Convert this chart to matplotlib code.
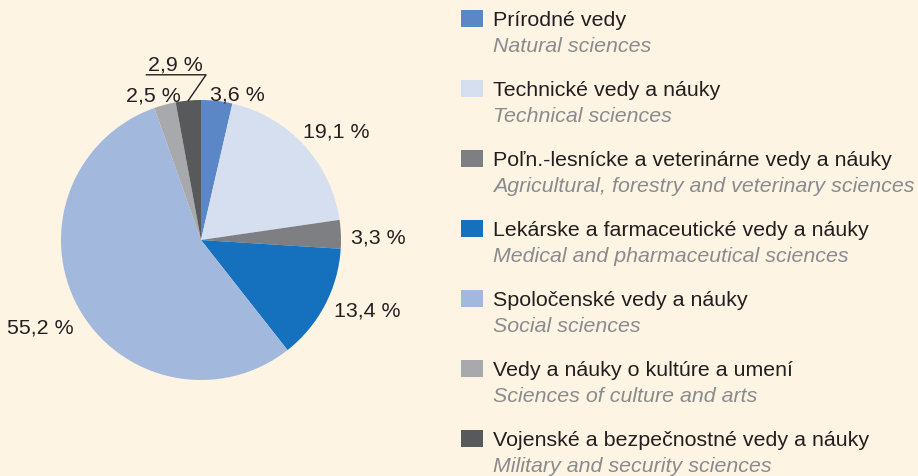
import numpy as np
import matplotlib
matplotlib.use("Agg")
import matplotlib.pyplot as plt
from matplotlib.patches import Rectangle

# data
labels_sk = ["Prírodné vedy", "Technické vedy a náuky",
             "Poľn.-lesnícke a veterinárne vedy a náuky",
             "Lekárske a farmaceutické vedy a náuky",
             "Spoločenské vedy a náuky", "Vedy a náuky o kultúre a umení",
             "Vojenské a bezpečnostné vedy a náuky"]
labels_en = ["Natural sciences", "Technical sciences",
             "Agricultural, forestry and veterinary sciences",
             "Medical and pharmaceutical sciences", "Social sciences",
             "Sciences of culture and arts", "Military and security sciences"]
shares = [3.6, 19.1, 3.3, 13.4, 55.2, 2.5, 2.9]
colors = ["#5b87c6", "#d5dff0", "#7e7f83", "#1570bd", "#a3b8dd", "#a7a9ac", "#58595b"]

BG = "#fdf4e3"
TXT = "#231f20"
GREY_TXT = "#8a8b8d"
W, H = 918, 477
FS = 15.4

plt.rcParams['font.family'] = ['Liberation Sans', 'DejaVu Sans']

fig = plt.figure(figsize=(W / 100, H / 100), dpi=100, facecolor=BG)

# pie axes: centre (201, 241) px, radius 140 px
cx, cy, rpx, half = 201, 241, 140, 1.45
ax = fig.add_axes([(cx - half * rpx) / W, (H - cy - half * rpx) / H,
                   2 * half * rpx / W, 2 * half * rpx / H])
ax.set_facecolor(BG)

pct_labels = [f"{v:.1f} %".replace(".", ",") for v in shares]
shown = pct_labels[:-1] + [""]
wedges, texts = ax.pie(shares, colors=colors, startangle=90, counterclock=False,
                       labels=shown, labeldistance=1.07,
                       textprops=dict(fontsize=FS, color=TXT),
                       wedgeprops=dict(linewidth=0))
ax.set_xlim(-half, half)
ax.set_ylim(-half, half)
ax.axis("off")

# nudge labels a bit, like the original layout
nudge = [(-0.057, -0.02), (-0.057, 0.05), (0, -0.02), (0, 0),
         (0.03, -0.107), (0.13, 0), (0, 0)]
for t, (dx, dy) in zip(texts, nudge):
    x, y = t.get_position()
    t.set_position((x + dx, y + dy))

# leader for the last (small) slice
w = wedges[-1]
ang = np.deg2rad((w.theta1 + w.theta2) / 2)
p0 = (np.cos(ang), np.sin(ang))
ax.plot([p0[0], 0.036, -0.39], [p0[1], 1.18, 1.18], color=TXT, lw=1, clip_on=False)
ax.text(-0.18, 1.19, pct_labels[-1], fontsize=FS, color=TXT, ha="center", va="bottom")

# legend drawn by hand
for i, (sk, en, c) in enumerate(zip(labels_sk, labels_en, colors)):
    top = 11 + 70 * i
    fig.patches.append(Rectangle((461 / W, 1 - (top + 17) / H), 22 / W, 17 / H,
                                 transform=fig.transFigure, facecolor=c,
                                 edgecolor="none"))
    fig.text(493 / W, 1 - (top + 9.5) / H, sk, fontsize=FS, color=TXT,
             ha="left", va="center")
    fig.text(493 / W, 1 - (top + 36) / H, en, fontsize=FS, color=GREY_TXT,
             style="italic", ha="left", va="center")

fig.savefig("out.png", dpi=100, facecolor=BG)
